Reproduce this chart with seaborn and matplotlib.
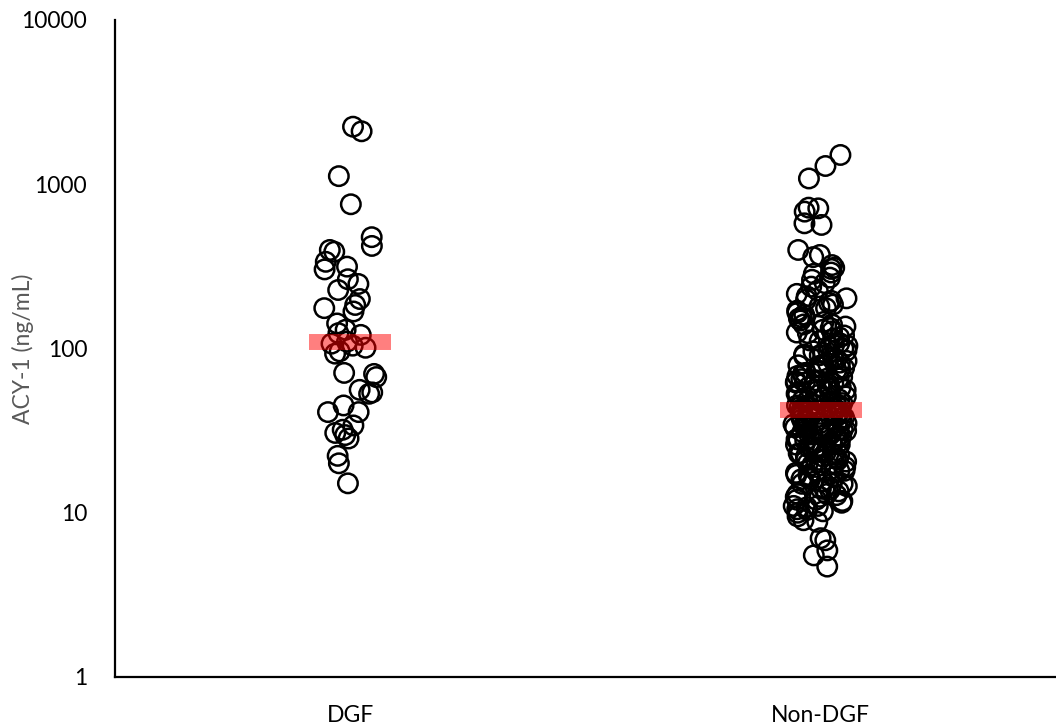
import numpy as np
import pandas as pd
import matplotlib
matplotlib.use("Agg")
import matplotlib.pyplot as plt
import seaborn as sns

categories = ["DGF", "Non-DGF"]

dgf_values = [2240, 2100, 1120, 755, 476, 421, 398, 388, 337, 315, 303, 264, 247, 227,
              200, 184, 176, 168, 142, 130, 124, 121, 110, 107, 104, 101, 96, 93, 71, 70,
              67, 56, 54, 53, 45, 41, 41, 34, 32, 30.6, 29.7, 28.3, 22.2, 20, 15.1]

non_dgf_values = [1507, 1291, 1084,
                  720, 713, 681, 578, 565,
                  398, 371, 360, 322, 310, 305,
                  290, 285, 270, 262, 250, 238, 225, 215, 208, 202,
                  198, 195, 190, 185, 180, 176, 170, 165, 160, 155, 152,
                  148, 145, 140, 136, 133, 130, 127, 124, 120, 117, 114, 111, 108, 105, 102, 100,
                  98, 96, 94, 92, 90, 88, 86, 84, 82, 80, 79, 77, 76, 74, 73, 72, 71,
                  69, 68, 67, 66, 65, 64, 63, 62, 61, 60, 59, 58, 57, 56, 55, 54, 53, 52, 51, 50,
                  49, 48.5, 48, 47, 46.5, 46, 45, 44.5, 44, 43.5, 43, 42, 41.5, 41, 40.5, 40,
                  39.5, 39, 38, 37.5, 37, 36, 35.5, 35, 34, 33.5, 33, 32, 31.5, 31, 30.5, 30,
                  29.5, 29, 28, 27.5, 27, 26, 25.5, 25, 24.5, 24, 23, 22.5, 22, 21.5, 21, 20.5, 20,
                  19.5, 19, 18.5, 18, 17.5, 17, 16.5, 16, 15.5, 15,
                  14.5, 14, 13.5, 13, 12.5, 12, 11.5, 11, 10.5, 10, 10.2,
                  9.5, 9.0, 8.8, 7.0, 6.8, 5.9, 5.5, 4.7,
                  42.5, 41, 39, 38.5, 37, 36.5, 35, 34.5, 33, 32.5, 31, 30, 29, 28.5, 27,
                  26.5, 26, 25, 24, 23.5, 23, 22, 21, 20, 19, 18, 17, 16, 15, 14, 13,
                  12.5, 12, 11, 10.8,
                  140, 125, 112, 104, 97, 91, 85, 81, 78, 75, 70, 66, 62, 58, 55, 52, 50, 48, 46, 44,
                  42, 40, 38, 36, 34, 32, 30, 28, 26, 24, 22.5, 21, 19.5, 18, 16.5, 15, 13.8, 12.8, 11.8, 10.4]

y_ticks = [1, 10, 100, 1000, 10000]
y_label = "ACY-1 (ng/mL)"

df = pd.DataFrame({
    "group": [categories[0]] * len(dgf_values) + [categories[1]] * len(non_dgf_values),
    "value": dgf_values + non_dgf_values,
})

sns.set_theme(style="white")
plt.rcParams["font.family"] = ["Lato", "DejaVu Sans"]

fig = plt.figure(figsize=(10.56, 7.26), dpi=100)
ax = fig.add_axes([0.1089, 0.0675, 0.8911, 0.905])

np.random.seed(3)
sns.stripplot(data=df, x="group", y="value", order=categories, jitter=0.058,
              size=14, color="black", ax=ax, log_scale=True)
for coll in ax.collections:
    coll.set_facecolor("none")
    coll.set_edgecolor("black")
    coll.set_linewidth(1.8)

medians = df.groupby("group")["value"].median()
for i, cat in enumerate(categories):
    ax.plot([i - 0.087, i + 0.087], [medians[cat], medians[cat]], color="red",
            alpha=0.5, linewidth=11.5, solid_capstyle="butt", zorder=5)

ax.set_yscale("log")
ax.set_ylim(1, 10000)
ax.set_xlim(-0.5, 1.5)
ax.set_yticks(y_ticks)
ax.set_yticklabels([str(t) for t in y_ticks])
ax.yaxis.set_minor_locator(matplotlib.ticker.NullLocator())
ax.tick_params(axis="both", length=0, labelsize=16.5, colors="black")
ax.tick_params(axis="y", pad=20)
ax.tick_params(axis="x", pad=20)
ax.set_xlabel("")
ax.set_ylabel(y_label, fontsize=16.5, color="#595959")
ax.yaxis.set_label_coords(-0.086, 0.5)

for side in ["top", "right"]:
    ax.spines[side].set_visible(False)
for side in ["left", "bottom"]:
    ax.spines[side].set_visible(True)
    ax.spines[side].set_color("black")
    ax.spines[side].set_linewidth(1.6)
ax.grid(False)

fig.savefig("out.png", dpi=100)
